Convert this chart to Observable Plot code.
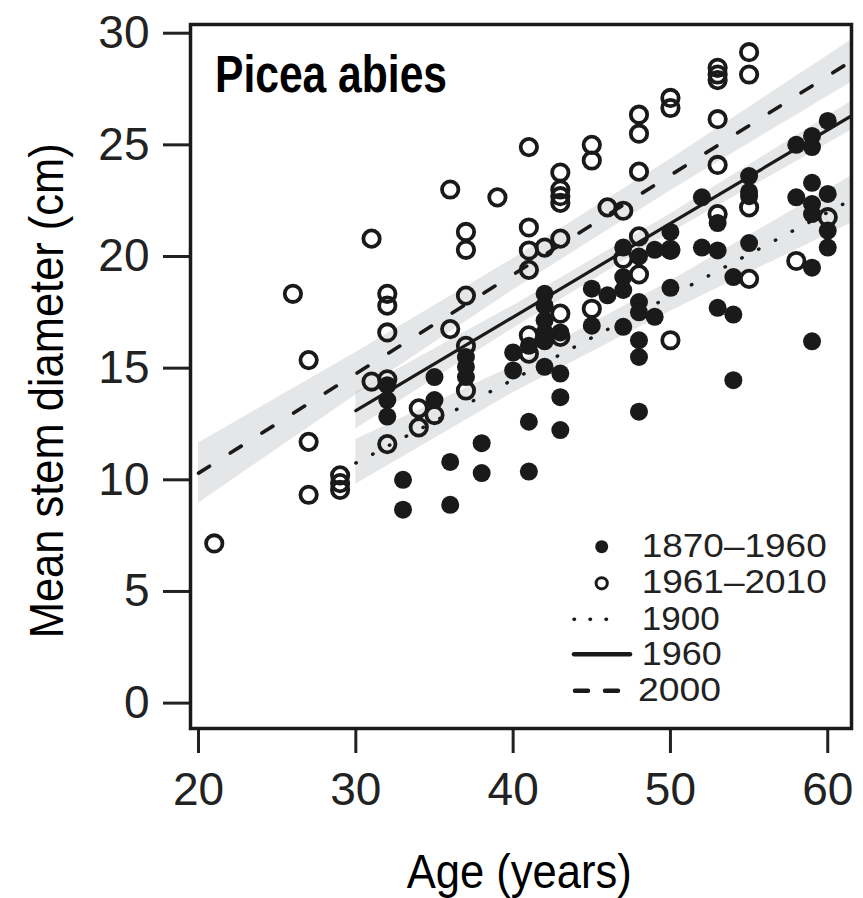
<!DOCTYPE html>
<html><head><meta charset="utf-8">
<script src="https://cdn.jsdelivr.net/npm/d3@7"></script>
<script src="https://cdn.jsdelivr.net/npm/@observablehq/plot@0.6"></script>
<style>
body{margin:0;background:#fff;}
#chart svg g[aria-label="x-axis tick"], #chart svg g[aria-label="y-axis tick"]{stroke-width:3px;}
</style></head><body><div id="chart"></div><script>
// ---- data ----
const panelTitle = "Picea abies";
const xLabel = "Age (years)";
const yLabel = "Mean stem diameter (cm)";
const xTicks = [20, 30, 40, 50, 60];
const yTicks = [0, 5, 10, 15, 20, 25, 30];
const legendLabels = ["1870–1960", "1961–2010", "1900", "1960", "2000"];

// 1870–1960 (filled)
const filledAge = [32,32,32,33,33,35,35,36,36,37,37,37,38,38,40,40,41,41,41,42,42,42,42,42,42,43,43,43,43,45,45,46,47,47,47,47,48,48,48,48,48,48,49,49,50,50,50,52,52,53,53,53,54,54,54,55,55,55,55,58,58,59,59,59,59,59,59,59,60,60,60,60];
const filledDiam = [14.24,13.57,12.83, 10.0,8.66, 14.6,13.57, 10.8,8.88, 15.5,15.06,14.6, 11.64,10.3, 15.7,14.9, 16.0,12.6,10.37, 18.33,17.8,17.14,16.6,16.2,15.06, 16.6,14.76,13.7,12.23, 18.56,16.9, 18.26, 20.4,19.08,18.5,16.85, 20.0,17.96,17.5,16.25,15.5,13.05, 20.3,17.3, 21.1,20.3,18.6, 22.65,20.4, 21.5,20.27,17.7, 19.08,17.4,14.46, 23.6,22.9,22.7,20.6, 25.0,22.65, 25.4,24.9,23.3,22.35,21.9,19.5,16.2, 26.07,22.8,21.16,20.4];

// 1961–2010 (open)
const openAge = [21, 26, 27,27,27, 29,29,29, 31,31, 32,32,32,32,32, 34,34, 35, 36,36, 37,37,37,37,37, 39, 41,41,41,41,41,41, 42, 43,43,43,43,43,43,43, 45,45,45, 46, 47,47, 48,48,48,48,48, 50,50,50,50, 53,53,53,53,53,53, 55,55,55,55, 58, 60];
const openDiam = [7.15, 18.33, 15.36,11.7,9.33, 10.2,9.85,9.55, 20.8,14.4, 18.33,17.8,16.6,14.5,11.6, 13.2,12.35, 12.9, 23.0,16.75, 21.1,20.3,18.25,16.0,14.0, 22.65, 24.9,21.3,20.27,19.4,16.47,15.65, 20.4, 23.76,23.0,22.7,22.4,20.8,17.44,16.4, 25.0,24.3,17.66, 22.2, 22.05,19.9, 26.35,25.5,23.8,20.9,19.2, 27.1,26.65,20.3,16.25, 28.45,28.15,27.9,26.15,24.1,21.9, 29.15,28.15,22.2,19.0, 19.8, 21.76];

// fitted lines and confidence bands
const fitAge2000 = [20, 30, 40, 50, 61.5];
const fit2000 = [10.3, 14.75, 19.19, 23.64, 28.75];
const lo2000 = [8.95, 13.8, 18.5, 22.95, 27.8];
const hi2000 = [11.65, 15.7, 19.9, 24.35, 29.7];
const fitAge1960 = [30, 40, 50, 61.5];
const fit1960 = [13.1, 17.29, 21.48, 26.3];
const lo1960 = [12.28, 16.78, 21.06, 25.65];
const hi1960 = [13.92, 17.8, 21.9, 26.95];
const fitAge1900 = [30, 40, 50, 61.5];
const fit1900 = [10.75, 14.49, 18.23, 22.54];
const lo1900 = [9.8, 13.9, 17.55, 21.5];
const hi1900 = [11.8, 15.1, 18.9, 23.6];

// ---- tables ----
const filled = filledAge.map((a, i) => ({age: a, diam: filledDiam[i]}));
const open = openAge.map((a, i) => ({age: a, diam: openDiam[i]}));
const mk = (ages, v, lo, hi) => ages.map((a, i) => ({age: a, v: v[i], lo: lo[i], hi: hi[i]}));
const f2000 = mk(fitAge2000, fit2000, lo2000, hi2000);
const f1960 = mk(fitAge1960, fit1960, lo1960, hi1960);
const f1900 = mk(fitAge1900, fit1900, lo1900, hi1900);

const INK = "#1a1a1a";
const FONT = "'Liberation Sans', Arial, Helvetica, sans-serif";
const bandStyle = {x: "age", y1: "lo", y2: "hi", fill: "#c6c7c9", fillOpacity: 0.45, clip: true};

const chart = Plot.plot({
  width: 863, height: 898,
  marginLeft: 190, marginRight: 12, marginTop: 24, marginBottom: 170,
  style: {fontFamily: FONT, fontSize: "46px", color: "#222", background: "#fff"},
  x: {domain: [19.49, 61.51], ticks: xTicks, tickSize: 25, tickPadding: 19, label: null},
  y: {domain: [-1.137, 30.39], ticks: yTicks, tickSize: 27, tickPadding: 14, label: null},
  marks: [
    Plot.areaY(f2000, bandStyle),
    Plot.areaY(f1960, bandStyle),
    Plot.areaY(f1900, bandStyle),
    Plot.dot(filled, {x: "age", y: "diam", r: 9, fill: INK, stroke: "none"}),
    Plot.dot(open, {x: "age", y: "diam", r: 8.2, fill: "none", stroke: INK, strokeWidth: 3.8}),
    Plot.line(f1900, {x: "age", y: "v", stroke: INK, strokeWidth: 3.4, strokeDasharray: "0.5,18.5", strokeLinecap: "round", clip: true}),
    Plot.line(f1960, {x: "age", y: "v", stroke: INK, strokeWidth: 3.2, clip: true}),
    Plot.line(f2000, {x: "age", y: "v", stroke: INK, strokeWidth: 3.6, strokeDasharray: "13,24.5", strokeLinecap: "round", clip: true}),
    Plot.frame({stroke: INK, strokeWidth: 3.5})
  ]
});
document.getElementById("chart").appendChild(chart);

// ---- titles and legend (real text) ----
const svg = d3.select(chart);
svg.append("text").text(panelTitle)
  .attr("x", 215).attr("y", 91.7).attr("text-anchor", "start")
  .attr("font-family", FONT).attr("font-weight", "bold").attr("font-size", 51)
  .attr("fill", "#000").attr("textLength", 232).attr("lengthAdjust", "spacingAndGlyphs");
svg.append("text").text(xLabel)
  .attr("x", 406.7).attr("y", 888).attr("text-anchor", "start")
  .attr("font-family", FONT).attr("font-size", 48).attr("fill", "#000")
  .attr("textLength", 225).attr("lengthAdjust", "spacingAndGlyphs");
svg.append("text").text(yLabel)
  .attr("transform", "translate(63.3,638.3) rotate(-90)").attr("text-anchor", "start")
  .attr("font-family", FONT).attr("font-size", 48).attr("fill", "#000")
  .attr("textLength", 495).attr("lengthAdjust", "spacingAndGlyphs");

const leg = svg.append("g").attr("font-family", FONT).attr("font-size", 34).attr("fill", "#222").attr("text-anchor", "start");
const rowY = [546.7, 583.3, 619.3, 654.3, 690.7];
const textBase = [556.7, 592.7, 630, 665, 700.5];
const textX = [641.7, 641.7, 641.7, 641.7, 638];
const textLen = [185, 185, 78, 80, 83];
leg.append("circle").attr("cx", 601.7).attr("cy", rowY[0]).attr("r", 6.5).attr("fill", INK);
leg.append("circle").attr("cx", 601.7).attr("cy", rowY[1]).attr("r", 5.6).attr("fill", "none").attr("stroke", INK).attr("stroke-width", 3);
leg.append("line").attr("x1", 574).attr("x2", 622).attr("y1", rowY[2]).attr("y2", rowY[2])
  .attr("stroke", INK).attr("stroke-width", 3.6).attr("stroke-linecap", "round").attr("stroke-dasharray", "0.5,15.5");
leg.append("line").attr("x1", 574).attr("x2", 630).attr("y1", rowY[3]).attr("y2", rowY[3])
  .attr("stroke", INK).attr("stroke-width", 4.5).attr("stroke-linecap", "round");
leg.append("line").attr("x1", 575).attr("x2", 620).attr("y1", rowY[4]).attr("y2", rowY[4])
  .attr("stroke", INK).attr("stroke-width", 4.5).attr("stroke-linecap", "round").attr("stroke-dasharray", "13,17");
legendLabels.forEach((lab, i) => {
  leg.append("text").text(lab).attr("x", textX[i]).attr("y", textBase[i])
    .attr("textLength", textLen[i]).attr("lengthAdjust", "spacingAndGlyphs");
});
</script></body></html>
